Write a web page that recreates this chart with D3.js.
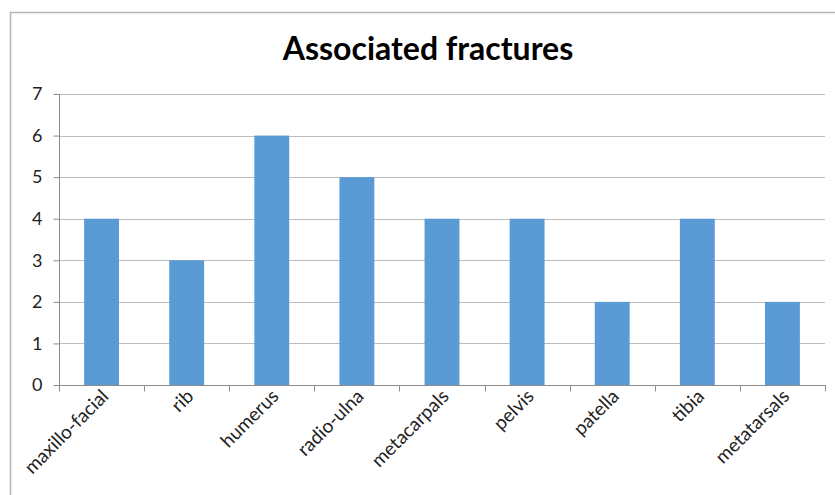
<!DOCTYPE html>
<html>
<head>
<meta charset="utf-8">
<script src="https://cdn.jsdelivr.net/npm/d3@7"></script>
<style>
  html, body { margin: 0; padding: 0; background: #fff; }
  svg { display: block; }
</style>
</head>
<body>
<svg id="chart" width="835" height="495"></svg>
<script>
// Counts of associated fractures per bone region
const categories = ["maxillo-facial", "rib", "humerus", "radio-ulna", "metacarpals", "pelvis", "patella", "tibia", "metatarsals"];
const counts = [4, 3, 6, 5, 4, 4, 2, 4, 2];
const yTicks = [0, 1, 2, 3, 4, 5, 6, 7];
const chartTitle = "Associated fractures";

const svg = d3.select("#chart");
const W = 835, H = 495;
const plot = { left: 59, right: 825, top: 94, bottom: 385 };
const font = "Lato, 'Open Sans', sans-serif";

// chart frame (extends past the right and bottom edges)
svg.append("rect")
  .attr("x", 10.5).attr("y", 12.5)
  .attr("width", W + 20).attr("height", H + 20)
  .attr("fill", "#fff").attr("stroke", "#b4b4b4").attr("stroke-width", 1.5);

const x = d3.scaleBand().domain(categories).range([plot.left, plot.right]).paddingInner(0.59).paddingOuter(0.295);
const xBand = d3.scaleBand().domain(categories).range([plot.left, plot.right]);
const y = d3.scaleLinear().domain([0, 7]).range([plot.bottom, plot.top]);

// horizontal gridlines
svg.append("g").selectAll("line").data(yTicks.filter(t => t > 0)).join("line")
  .attr("x1", plot.left).attr("x2", plot.right)
  .attr("y1", d => Math.round(y(d)) + 0.5).attr("y2", d => Math.round(y(d)) + 0.5)
  .attr("stroke", "#bcbcbc").attr("stroke-width", 1.2);

// bars
svg.append("g").selectAll("rect").data(categories).join("rect")
  .attr("x", d => x(d))
  .attr("width", x.bandwidth())
  .attr("y", (d, i) => y(counts[i]))
  .attr("height", (d, i) => y(0) - y(counts[i]))
  .attr("fill", "#5b9bd5");

// y axis
const yAxis = svg.append("g").attr("transform", `translate(${plot.left + 0.5},0)`)
  .call(d3.axisLeft(y).tickValues(yTicks).tickFormat(d3.format("d")).tickSize(6).tickPadding(11));
yAxis.select(".domain").attr("stroke", "#8c8c8c").attr("d", `M0,${plot.top}V${plot.bottom}`);
yAxis.selectAll(".tick line").attr("stroke", "#8c8c8c");
yAxis.selectAll(".tick text").attr("font-family", font).attr("font-size", 18).attr("fill", "#222");

// x axis with ticks at category boundaries
const xAxisG = svg.append("g").attr("transform", `translate(0,${plot.bottom + 0.5})`);
xAxisG.append("line").attr("x1", plot.left).attr("x2", plot.right + 1).attr("stroke", "#8c8c8c");
const bounds = categories.map(c => xBand(c)).concat([plot.right]);
xAxisG.selectAll("line.tk").data(bounds).join("line").attr("class", "tk")
  .attr("x1", d => Math.round(d) + 0.5).attr("x2", d => Math.round(d) + 0.5)
  .attr("y1", 0).attr("y2", 6).attr("stroke", "#8c8c8c");
xAxisG.selectAll("text").data(categories).join("text")
  .attr("transform", d => `translate(${xBand(d) + xBand.bandwidth() / 2 + 8},${12}) rotate(-45)`)
  .attr("text-anchor", "end")
  .attr("font-family", font).attr("font-size", 19).attr("fill", "#222")
  .text(d => d);

// title
svg.append("text")
  .attr("x", 428).attr("y", 60)
  .attr("text-anchor", "middle")
  .attr("font-family", font).attr("font-weight", "bold").attr("font-size", 32)
  .attr("fill", "#000")
  .text(chartTitle);
</script>
</body>
</html>
